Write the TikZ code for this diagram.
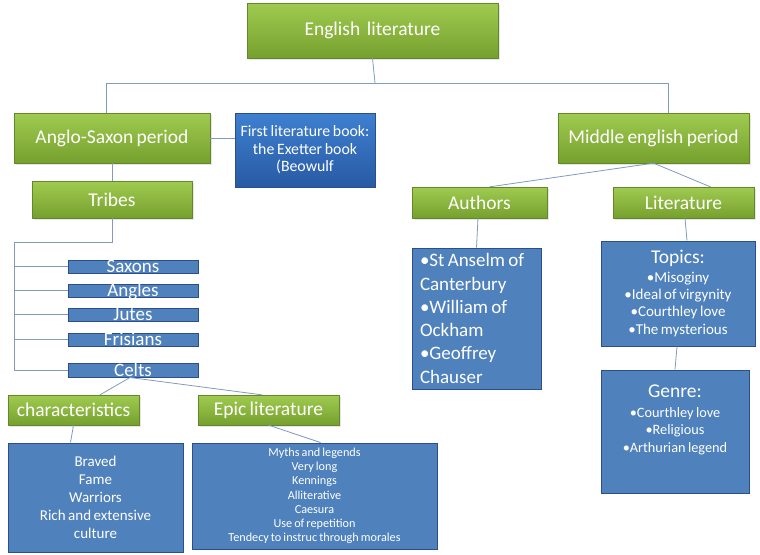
\documentclass[tikz,border=0pt]{standalone}
\usepackage{fontspec}
\setmainfont{Carlito}[WordSpace=0.75]
\usetikzlibrary{shadows}
\definecolor{leaftop}{RGB}{160,203,80}
\definecolor{leafbot}{RGB}{118,160,46}
\definecolor{boxblue}{RGB}{79,129,189}
\definecolor{boxedge}{RGB}{44,78,138}
\definecolor{booktop}{RGB}{62,128,208}
\definecolor{bookbot}{RGB}{40,90,164}
\definecolor{linkgray}{RGB}{128,154,194}
\tikzset{
  topic/.style={top color=leaftop, bottom color=leafbot, draw=leafbot!85!black, line width=0.3pt,
    text=white, inner sep=0pt, font=\fontsize{19.5}{22}\selectfont,
    drop shadow={opacity=0.2, shadow xshift=1.5pt, shadow yshift=-1.5pt}},
  notes/.style={fill=boxblue, draw=boxedge, line width=1pt, text=white, inner sep=0pt,
    drop shadow={opacity=0.15, shadow xshift=1pt, shadow yshift=-1pt}},
  tribe/.style={notes, minimum width=130pt, minimum height=13pt, text height=12.5pt, text depth=0pt,
    inner ysep=0.25pt, font=\fontsize{19}{19}\selectfont},
  link/.style={draw=linkgray, line width=0.8pt}
}

\begin{document}
\begin{tikzpicture}[x=1pt, y=-1pt]
  \useasboundingbox (0,0) rectangle (760,554);
  % top and periods
  \node[topic, minimum width=251pt, minimum height=55pt] (english) at (372.5,30.5) {English\ \ literature};
  \node[topic, minimum width=196pt, minimum height=50pt] (anglo) at (112,138) {Anglo-Saxon period};
  \node[topic, minimum width=191pt, minimum height=50pt] (middle) at (653.5,138) {Middle english period};
  \node[notes, top color=booktop, bottom color=bookbot, minimum width=140pt, minimum height=74pt,
    align=center, font=\fontsize{15.8}{17.5}\selectfont] (book) at (305,150)
    {First literature book:\\the Exetter book\\(Beowulf};
  % anglo-saxon branch
  \node[topic, minimum width=160pt, minimum height=37pt] (tribes) at (112,199.5) {Tribes};
  \node[tribe] (saxons) at (133,266.5) {Saxons};
  \node[tribe] (angles) at (133,290.5) {Angles};
  \node[tribe] (jutes) at (133,314.5) {Jutes};
  \node[tribe] (frisians) at (133,339.5) {Frisians};
  \node[tribe, minimum height=14pt] (celts) at (133,370) {Celts};
  \node[topic, minimum width=131pt, minimum height=30pt] (charac) at (73.5,410) {characteristics};
  \node[topic, minimum width=141pt, minimum height=30pt] (epic) at (268.5,410) {Epic literature};
  \node[notes, minimum width=175pt, minimum height=109pt, align=center,
    font=\fontsize{15}{18}\selectfont] (charlist) at (95.5,497.5)
    {Braved\\Fame\\Warriors\\Rich and extensive\\culture};
  \node[notes, minimum width=245pt, minimum height=106pt, align=center,
    font=\fontsize{12.2}{14.2}\selectfont] (epiclist) at (314.5,496)
    {Myths and legends\\Very long\\Kennings\\Alliterative\\Caesura\\Use of repetition\\Tendecy to instruc through morales};
  % middle english branch
  \node[topic, minimum width=135pt, minimum height=31pt] (authors) at (479.5,202.5) {Authors};
  \node[topic, minimum width=141pt, minimum height=31pt] (literature) at (683.5,202.5) {Literature};
  \node[notes, minimum width=129pt, minimum height=141pt, text width=113pt, align=flush left,
    font=\fontsize{19}{23.3}\selectfont] (authlist) at (476.5,318.5)
    {•St Anselm of\\Canterbury\\•William of\\Ockham\\•Geoffrey\\Chauser};
  \node[notes, minimum width=154pt, minimum height=105pt, align=center,
    font=\fontsize{15}{17.4}\selectfont] (topics) at (678,293.5)
    {{\fontsize{19.5}{21}\selectfont Topics:}\\[1pt]•Misoginy\\•Ideal of virgynity\\•Courthley love\\•The mysterious};
  \node[notes, minimum width=148pt, minimum height=123pt, align=center, text depth=26pt,
    font=\fontsize{14.3}{17.5}\selectfont] (genre) at (675,431.5)
    {{\fontsize{19.5}{21}\selectfont Genre:}\\[2pt]•Courthley love\\•Religious\\•Arthurian legend};
  % connectors
  \coordinate (split) at (375,83);
  \draw[link] (english.south) -- (split);
  \draw[link] (split) -| ([xshift=-6pt]anglo.north);
  \draw[link] (split) -| ([xshift=14.5pt]middle.north);
  \draw[link] (anglo.east) -- (anglo.east -| book.west);
  \draw[link] (anglo.south) -- (tribes.north);
  \coordinate (trunk) at (14,242);
  \draw[link] (tribes.south) |- (trunk) -- (trunk |- celts);
  \foreach \t in {saxons,angles,jutes,frisians,celts}
    \draw[link] (trunk |- \t) -- (\t.west);
  \draw[link] ([xshift=-3pt]celts.south) -- ([xshift=26.5pt]charac.north);
  \draw[link] ([xshift=-3pt]celts.south) -- ([xshift=-6.5pt]epic.north);
  \draw[link] (charac.south) -- ([xshift=-25pt]charlist.north);
  \draw[link] (epic.south) -- ([xshift=6pt]epiclist.north);
  \draw[link] (middle.south) -- ([xshift=10pt]authors.north);
  \draw[link] (middle.south) -- ([xshift=27pt]literature.north);
  \draw[link] ([xshift=-1.5pt]authors.south) -- (authlist.north);
  \draw[link] ([xshift=1.5pt]literature.south) -- ([xshift=9pt]topics.north);
  \draw[link] ([xshift=-1pt]topics.south) -- (genre.north);
\end{tikzpicture}
\end{document}
